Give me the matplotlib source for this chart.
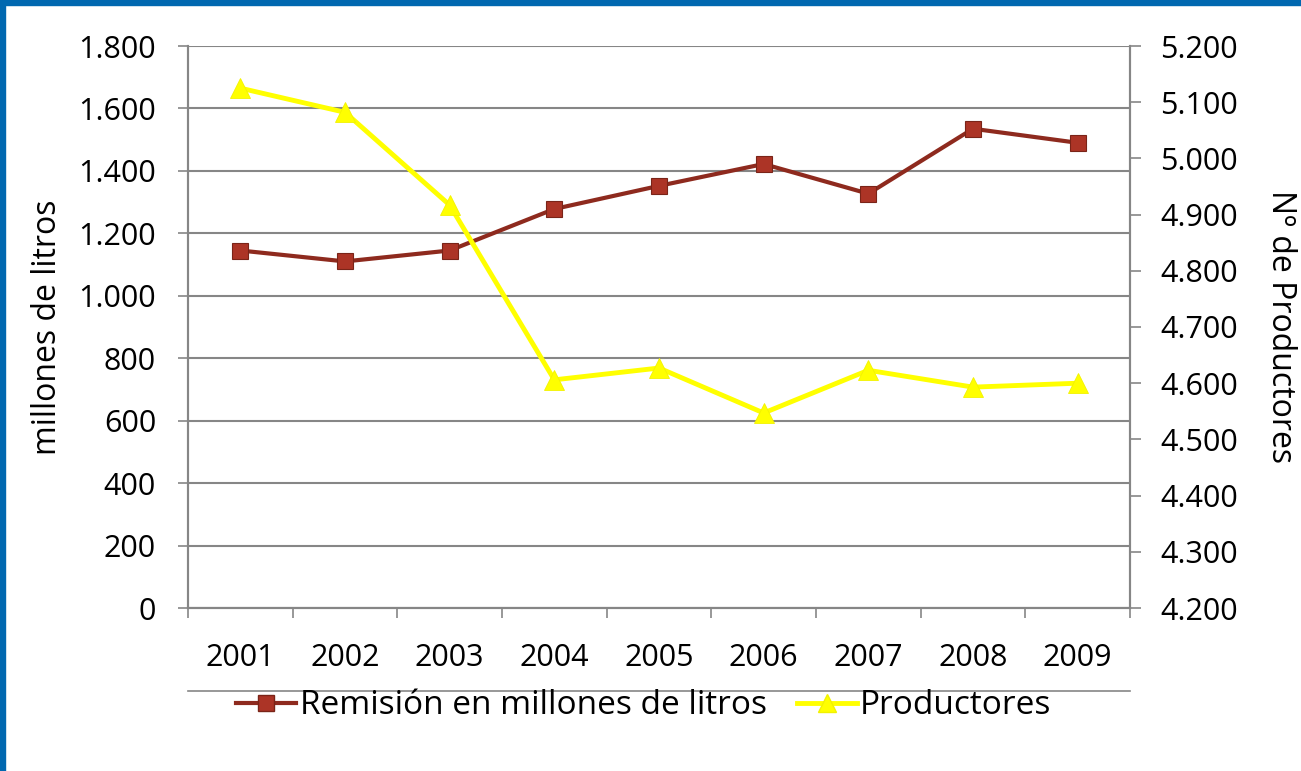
import matplotlib
matplotlib.use('Agg')
import matplotlib.pyplot as plt
from matplotlib.ticker import FuncFormatter, FixedLocator
from matplotlib.lines import Line2D

years = ['2001', '2002', '2003', '2004', '2005', '2006', '2007', '2008', '2009']
remision = [1145, 1110, 1145, 1278, 1352, 1422, 1327, 1535, 1490]
productores = [5125, 5082, 4917, 4606, 4627, 4547, 4623, 4593, 4600]

plt.rcParams['font.family'] = ['Open Sans', 'DejaVu Sans']

GRAY = '#868686'
RED_LINE = '#8E2A1E'
RED_FACE = '#AC3426'
YELLOW = '#FFFF00'


def miles(v, pos):
    return f'{int(round(v)):,}'.replace(',', '.')


fig = plt.figure(figsize=(13.01, 7.71), dpi=100)
ax = fig.add_axes([188 / 1301, 1 - 608 / 771, (1130 - 188) / 1301, (608 - 46) / 771])
ax2 = ax.twinx()

x = list(range(len(years)))

ax.plot(x, remision, color=RED_LINE, lw=3, marker='s', ms=12,
        mfc=RED_FACE, mec='#7A2418', mew=0.8, zorder=3)
ax2.plot(x, productores, color=YELLOW, lw=3.5, marker='^', ms=14,
         mfc=YELLOW, mec='#F2F200', mew=0.6, zorder=3)

ax.set_xlim(-0.5, len(years) - 0.5)
ax.set_ylim(0, 1800)
ax.set_yticks(range(0, 1801, 200))
ax.yaxis.set_major_formatter(FuncFormatter(miles))
ax2.set_ylim(4200, 5200)
ax2.set_yticks(range(4200, 5201, 100))
ax2.yaxis.set_major_formatter(FuncFormatter(miles))

ax.set_xticks(x)
ax.set_xticklabels(years)
ax.xaxis.set_minor_locator(FixedLocator([i - 0.5 for i in range(len(years) + 1)]))
ax.tick_params(axis='x', which='major', length=0, pad=25, labelsize=22)
ax.tick_params(axis='x', which='minor', length=7, width=1.2, color=GRAY)
ax.tick_params(axis='y', length=7, width=1.2, color=GRAY, labelsize=22, pad=16)
ax2.tick_params(axis='y', length=8, width=1.2, color=GRAY, labelsize=22, pad=14)

ax.grid(axis='y', color=GRAY, lw=1.5, zorder=0)
for a in (ax, ax2):
    for s in a.spines.values():
        s.set_color(GRAY)
        s.set_linewidth(1.5)
    a.spines['top'].set_visible(False)

ax.set_ylabel('millones de litros', fontsize=23, labelpad=10)
ax2.set_ylabel('Nº de Productores', fontsize=23, rotation=270, labelpad=42)

# line above the legend
fig.add_artist(Line2D([188 / 1301, 1130 / 1301], [1 - 691 / 771] * 2,
                      color=GRAY, lw=1.2))

handles = [
    Line2D([], [], color=RED_LINE, lw=3, marker='s', ms=12, mfc=RED_FACE, mec='#7A2418'),
    Line2D([], [], color=YELLOW, lw=3.5, marker='^', ms=13, mfc=YELLOW, mec='#F2F200'),
]
fig.legend(handles, ['Remisión en millones de litros', 'Productores'],
           loc='center', bbox_to_anchor=(644 / 1301, 1 - 706 / 771), ncol=2,
           frameon=False, fontsize=24, handlelength=1.8, handletextpad=0.1,
           columnspacing=0.9)

# blue slide border
fig.add_artist(plt.Rectangle((0, 1 - 5 / 771), 1, 5 / 771, color='#0068B0',
                             transform=fig.transFigure, zorder=10))
fig.add_artist(plt.Rectangle((0, 0), 5 / 1301, 1, color='#0068B0',
                             transform=fig.transFigure, zorder=10))

fig.savefig('out.png', dpi=100)
